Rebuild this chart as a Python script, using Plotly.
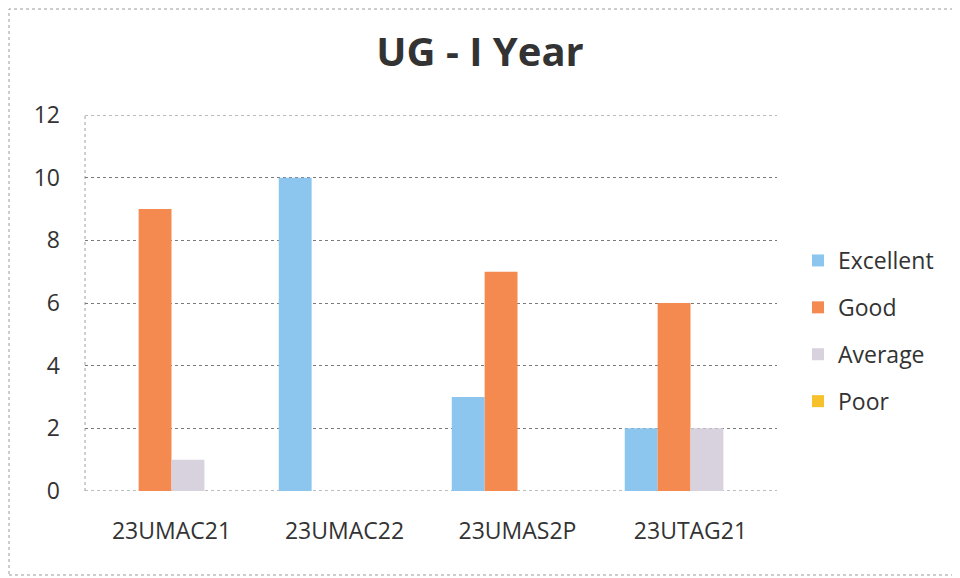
import plotly.graph_objects as go

categories = ["23UMAC21", "23UMAC22", "23UMAS2P", "23UTAG21"]
excellent = [0, 10, 3, 2]
good = [9, 0, 7, 6]
average = [1, 0, 0, 2]
poor = [0, 0, 0, 0]
y_ticks = [0, 2, 4, 6, 8, 10, 12]
y_min, y_max = 0, 12

series = [
    ("Excellent", excellent, "#8CC6EE"),
    ("Good", good, "#F58A50"),
    ("Average", average, "#D8D1DE"),
    ("Poor", poor, "#F6C12A"),
]

fig = go.Figure()
for name, vals, color in series:
    fig.add_trace(go.Bar(
        x=categories, y=vals, name=name, legendgroup=name,
        marker=dict(color=color, line=dict(width=0)),
    ))

# page is offset by the 8px body margin
OFF = 8
PL, PR, PT, PB = 85, 777, 115, 491
L, R, T, B = PL - OFF, 960 - (PR - OFF), PT - OFF, 578 - (PB - OFF)
W, H = 960, 578
pw, ph = W - L - R, H - T - B
GRID = "#7a7a7a"

fig.update_layout(
    width=W, height=H,
    margin=dict(l=L, r=R, t=T, b=B),
    paper_bgcolor="white", plot_bgcolor="white",
    barmode="group", bargap=0.24, bargroupgap=0,
    font=dict(family="Open Sans, Lato, sans-serif", color="#333333", size=23),
    title=dict(text="<b>UG - I Year</b>", x=(480 - OFF) / W, xanchor="center",
               y=1 - (52 - OFF) / H, yanchor="middle",
               font=dict(size=40, color="#333333", family="Open Sans, sans-serif")),
    legend=dict(x=(798 - PL) / pw, xanchor="left", y=(PB - 331) / ph, yanchor="middle",
                font=dict(size=23, color="#333333"), tracegroupgap=14,
                itemwidth=30, bgcolor="rgba(0,0,0,0)"),
    showlegend=True,
)
fig.update_xaxes(showgrid=False, showline=False, ticks="", tickfont=dict(size=23),
                 ticklabelstandoff=24)
fig.update_yaxes(range=[y_min, y_max], tickvals=y_ticks, showgrid=True, gridcolor=GRID,
                 griddash="dot", gridwidth=1, zeroline=False, showline=False,
                 ticks="", tickfont=dict(size=23), ticklabelstandoff=24)

# edge gridlines (top / baseline) and dotted left axis line
for yv in (y_min, y_max):
    fig.add_shape(type="line", xref="paper", yref="y", x0=0, x1=1, y0=yv, y1=yv,
                  line=dict(color=GRID, width=1, dash="dot"), layer="below")
fig.add_shape(type="line", xref="paper", yref="y", x0=0, x1=0, y0=y_min, y1=y_max,
              line=dict(color="#a0a0a0", width=1, dash="dot"), layer="below")

# outer border of the chart frame
fig.add_shape(type="rect", xref="paper", yref="paper",
              x0=(1 - L) / pw, x1=(957 - OFF - L) / pw,
              y0=-((575 - OFF) - (H - B)) / ph, y1=1 + (T - 1) / ph,
              line=dict(color="#9a9a9a", width=1, dash="dot"),
              fillcolor="rgba(0,0,0,0)", layer="below")

fig.write_html("out.html")
